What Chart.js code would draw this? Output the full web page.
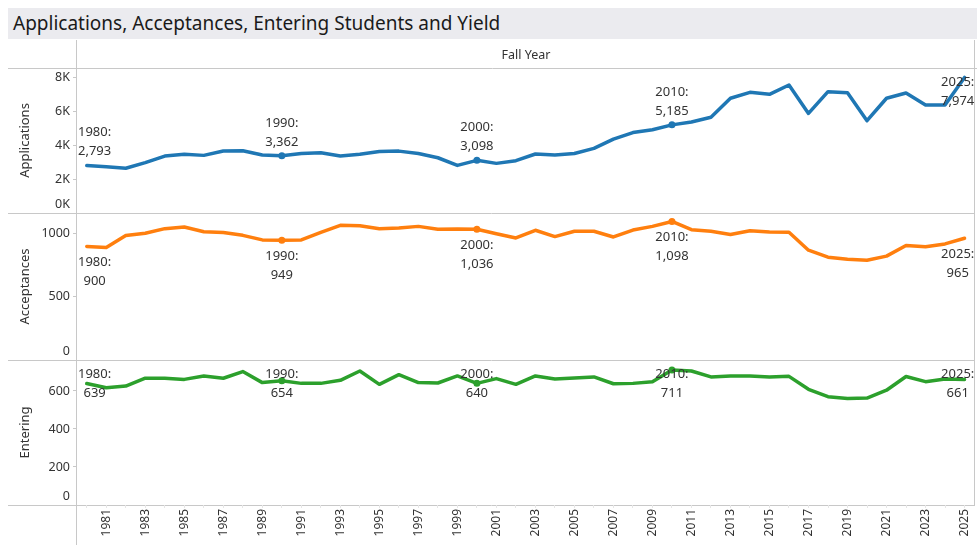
<!DOCTYPE html>
<html>
<head>
<meta charset="utf-8">
<script src="https://cdn.jsdelivr.net/npm/chart.js@4/dist/chart.umd.min.js"></script>
<style>
  body { margin: 0; background: #fff; font-family: "Noto Sans", sans-serif; }
  #wrap { position: absolute; left: 0; top: 0; width: 980px; height: 550px; }
  #title { position: absolute; left: 8px; top: 8px; width: 969px; height: 31px; background: #ebebef;
           color: #1a1a1a; font-size: 19px; line-height: 31px; padding-left: 5px; box-sizing: border-box; }
  #colhead { position: absolute; left: 77px; top: 46px; width: 898px; text-align: center;
             font-size: 12.5px; color: #333; }
</style>
</head>
<body>
<div id="wrap"><canvas id="chart"></canvas></div>
<div id="title">Applications, Acceptances, Entering Students and Yield</div>
<div id="colhead">Fall Year</div>
<script>
const years = [1980, 1981, 1982, 1983, 1984, 1985, 1986, 1987, 1988, 1989,
  1990, 1991, 1992, 1993, 1994, 1995, 1996, 1997, 1998, 1999,
  2000, 2001, 2002, 2003, 2004, 2005, 2006, 2007, 2008, 2009,
  2010, 2011, 2012, 2013, 2014, 2015, 2016, 2017, 2018, 2019,
  2020, 2021, 2022, 2023, 2024, 2025];
const xTickLabels = ['1981', '1983', '1985', '1987', '1989', '1991', '1993', '1995', '1997', '1999',
  '2001', '2003', '2005', '2007', '2009', '2011', '2013', '2015', '2017', '2019', '2021', '2023', '2025'];

const applications = [2793, 2720, 2630, 2960, 3350, 3450, 3390, 3650, 3660, 3410,
  3362, 3500, 3550, 3350, 3450, 3620, 3640, 3500, 3250, 2800,
  3098, 2920, 3080, 3470, 3410, 3500, 3800, 4350, 4730, 4900,
  5185, 5350, 5630, 6750, 7100, 6980, 7530, 5860, 7140, 7080,
  5430, 6750, 7060, 6350, 6350, 7974];
const acceptances = [900, 891, 986, 1004, 1041, 1054, 1017, 1010, 988, 952,
  949, 952, 1012, 1067, 1064, 1041, 1046, 1059, 1036, 1038,
  1036, 1001, 967, 1028, 978, 1020, 1020, 975, 1030, 1059,
  1098, 1033, 1020, 994, 1025, 1015, 1012, 870, 815, 799,
  791, 823, 907, 897, 920, 965];
const entering = [639, 617, 626, 667, 667, 661, 679, 667, 702, 644,
  654, 640, 640, 656, 705, 635, 686, 644, 642, 679,
  640, 665, 635, 679, 663, 668, 674, 638, 640, 649,
  711, 705, 674, 679, 679, 674, 677, 609, 570, 561,
  563, 604, 676, 649, 663, 661];

const appTicks = [0, 2000, 4000, 6000, 8000];
const accTicks = [0, 500, 1000];
const entTicks = [0, 200, 400, 600];

const labelYears = [1980, 1990, 2000, 2010, 2025];
const markerYears = [1990, 2000, 2010];

const FONT = '"Noto Sans", sans-serif';
const LINE = '#c8c8c8';
const TEXT = '#333';

function radii() {
  return years.map(y => markerYears.includes(y) ? 3.5 : 0);
}

function series(label, data, color, axis, labelPos) {
  return {
    label, data, yAxisID: axis, labelPos,
    borderColor: color, backgroundColor: color,
    borderWidth: 3.5, borderJoinStyle: 'round', borderCapStyle: 'round',
    pointRadius: radii(), pointBorderWidth: 0, pointHoverRadius: 4, tension: 0
  };
}

// pane borders, y tick labels (kept inside their pane) and the year labels
const framePlugin = {
  id: 'frame',
  beforeDraw(chart) {
    const { ctx, chartArea: a, scales } = chart;
    ctx.save();
    ctx.strokeStyle = LINE;
    ctx.lineWidth = 1;
    ctx.beginPath();
    ctx.moveTo(8, 68.5); ctx.lineTo(977, 68.5);
    [scales.yApp.bottom, scales.yAcc.bottom, a.bottom].forEach(b => {
      const y = Math.round(b) + 0.5;
      ctx.moveTo(8, y); ctx.lineTo(975, y);
    });
    ctx.moveTo(Math.round(a.left) - 0.5, 40); ctx.lineTo(Math.round(a.left) - 0.5, 545);
    ctx.moveTo(Math.round(a.right) + 0.5, 40); ctx.lineTo(Math.round(a.right) + 0.5, a.bottom);
    ctx.stroke();
    ctx.restore();
  },
  afterDraw(chart) {
    const { ctx, chartArea: a } = chart;
    ctx.save();
    ctx.font = '12.5px ' + FONT;
    ctx.fillStyle = TEXT;
    ctx.textAlign = 'right';
    ctx.textBaseline = 'middle';
    ['yApp', 'yAcc', 'yEnt'].forEach(id => {
      const s = chart.scales[id];
      const fmt = s.options.ticks.callback;
      s.ticks.forEach(t => {
        let y = s.getPixelForValue(t.value);
        y = Math.max(s.top + 9, Math.min(s.bottom - 9, y));
        ctx.fillText(fmt(t.value), a.left - 7, y);
      });
    });
    ctx.restore();
  },
  afterDatasetsDraw(chart) {
    const { ctx, chartArea: a } = chart;
    ctx.save();
    ctx.font = '13px ' + FONT;
    ctx.fillStyle = TEXT;
    ctx.textAlign = 'center';
    ctx.textBaseline = 'middle';
    chart.data.datasets.forEach((ds, di) => {
      const meta = chart.getDatasetMeta(di);
      const ys = chart.scales[ds.yAxisID];
      labelYears.forEach(yr => {
        const i = years.indexOf(yr);
        const pt = meta.data[i];
        const lines = [yr + ':', ds.data[i].toLocaleString('en-US')];
        const w = Math.max(...lines.map(t => ctx.measureText(t).width));
        const cx = Math.max(a.left + w / 2 + 1, Math.min(a.right - w / 2, pt.x));
        let y1 = ds.labelPos === 'below' ? pt.y + 16 : pt.y - 33;
        y1 = Math.max(ys.top + 14, y1);
        ctx.fillText(lines[0], cx, y1);
        ctx.fillText(lines[1], cx, y1 + 19);
      });
    });
    ctx.restore();
  }
};

function yAxis(title, max, tickVals, weight, sw, fmt) {
  return {
    type: 'linear', position: 'left', stack: 'panes', stackWeight: sw, weight,
    min: 0, max,
    border: { display: false },
    grid: { drawOnChartArea: false, drawTicks: true, tickLength: 4, color: LINE },
    ticks: { display: false, callback: fmt },
    title: { display: true, text: title, color: TEXT, font: { family: FONT, size: 13 },
             padding: { top: 9, bottom: 0 } },
    afterBuildTicks(scale) { scale.ticks = tickVals.map(v => ({ value: v })); },
    afterFit(scale) { scale.width = 69; }
  };
}

new Chart(document.getElementById('chart'), {
  type: 'line',
  data: {
    labels: years.map(String),
    datasets: [
      series('Applications', applications, '#1f77b4', 'yApp', 'above'),
      series('Acceptances', acceptances, '#ff7f0e', 'yAcc', 'below'),
      series('Entering', entering, '#2ca02c', 'yEnt', 'above')
    ]
  },
  options: {
    responsive: true,
    maintainAspectRatio: false,
    animation: false,
    layout: { padding: { left: 8, right: 5, top: 68, bottom: 5 } },
    plugins: { legend: { display: false }, tooltip: { enabled: true } },
    scales: {
      x: {
        type: 'category', offset: true,
        border: { display: false },
        grid: { drawOnChartArea: false, drawTicks: true, tickLength: 3, color: '#e6e6e6' },
        ticks: {
          autoSkip: false, maxRotation: 90, minRotation: 90, padding: 1,
          color: TEXT, font: { family: FONT, size: 12 },
          callback(v, i) { return xTickLabels.includes(years[i] + '') ? years[i] + '' : ''; }
        },
        afterFit(scale) { scale.height = 40; }
      },
      yApp: yAxis('Applications', 8530, appTicks, 3, 145, v => (v / 1000) + 'K'),
      yAcc: yAxis('Acceptances', 1165, accTicks, 2, 147, v => v),
      yEnt: yAxis('Entering', 763, entTicks, 1, 145, v => v)
    }
  },
  plugins: [framePlugin]
});
</script>
</body>
</html>
